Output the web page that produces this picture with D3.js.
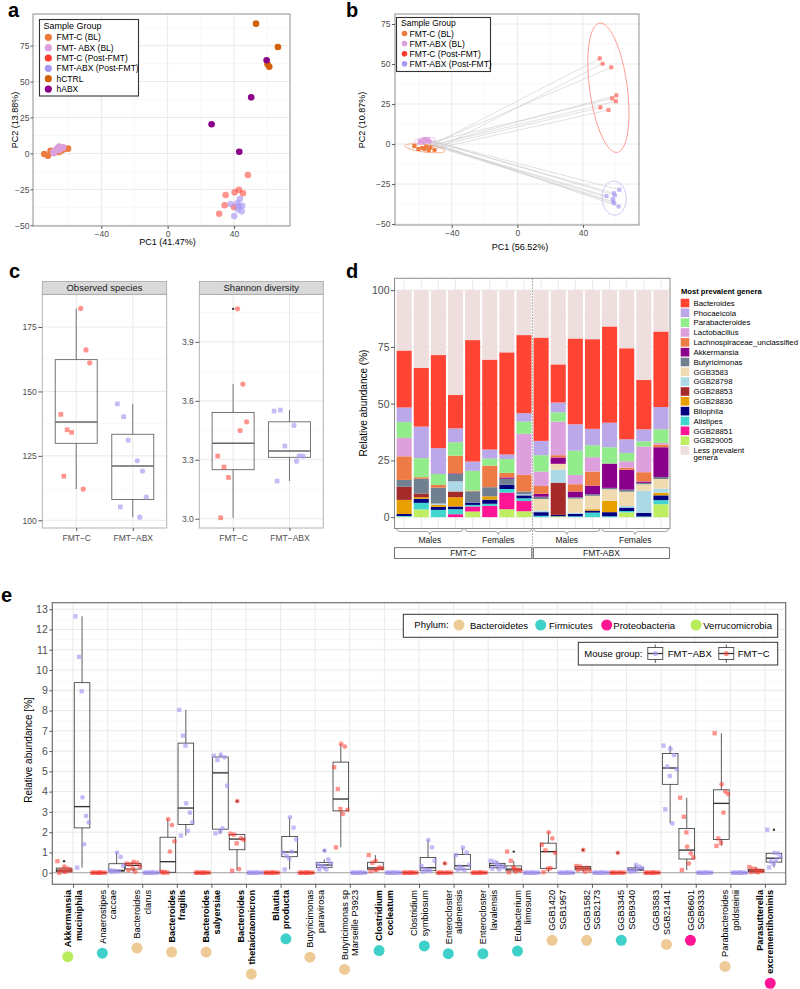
<!DOCTYPE html>
<html><head><meta charset="utf-8">
<script src="https://cdn.jsdelivr.net/npm/d3@7/dist/d3.min.js"></script>
<style>html,body{margin:0;padding:0;background:#fff;}</style>
</head><body>
<script>
// ================= DATA =================
// Panel a: PCA scores [PC1, PC2]
const aGroupNames = ["FMT-C (BL)", "FMT- ABX (BL)", "FMT-C (Post-FMT)", "FMT-ABX (Post-FMT)", "hCTRL", "hABX"];
const aFmtcBL = [[-74.4,-0.4],[-72.2,-1.6],[-70.6,1.9],[-60.1,3.3],[-64.5,1.7],[-65.7,1.0],[-69,0.5],[-63,2.8]];
const aFmtabxBL = [[-65.4,4.7],[-63,4.2],[-69,1.2],[-67.4,2.4],[-66.6,3.3],[-68.6,0.1],[-63.9,3.6],[-65.5,2.2]];
const aFmtcPost = [[48.4,-15],[43,-25.3],[40.4,-27.1],[45.4,-27.8],[35,-28.9],[34.4,-36.1],[40,-37.3],[31.1,-42]];
const aFmtabxPost = [[38,-35.2],[42,-34.7],[43.6,-31.7],[45,-36.4],[42.4,-38.9],[44.6,-40.3],[40.2,-43.6],[43,-36.6]];
const aHCTRL = [[53.3,90.3],[66.5,74],[60.3,62],[61.3,60.3]];
const aHABX = [[59.7,64.8],[50.4,39],[26.5,20.3],[43.2,1.2]];

// Panel b: PCA scores [PC1, PC2, sex]
const bGroupNames = ["FMT-C (BL)", "FMT-ABX (BL)", "FMT-C (Post-FMT)", "FMT-ABX (Post-FMT)"];
const bFmtcBL = [[-62.8,-1.25,"M"],[-60.3,-3.1,"M"],[-55.6,-1.7,"M"],[-54,-3.75,"M"],[-56.6,-3.1,"F"],[-50.5,-3.75,"F"],[-58,-2.5,"F"],[-53,-2.2,"F"]];
const bFmtabxBL = [[-56.6,3.1,"M"],[-55,2.5,"M"],[-54.5,2.8,"M"],[-59.5,1.5,"M"],[-58.7,2,"F"],[-57.5,1.2,"F"],[-56,1.8,"F"],[-53.5,1.5,"F"]];
const bFmtcPost = [[57.9,28.5,"M"],[60.4,30.4,"M"],[60.1,26.7,"M"],[55.6,21.25,"M"],[50.3,53.5,"F"],[52,50.2,"F"],[57.3,47.9,"F"],[50.7,22.9,"F"]];
const bFmtabxPost = [[62.2,-28.6,"M"],[58.9,-30.8,"M"],[59.5,-32,"M"],[58.5,-36,"M"],[54.4,-32.5,"F"],[58.3,-34.4,"F"],[59.1,-37,"F"],[61.8,-39,"F"]];

// Panel c: alpha diversity (males / females)
const cGroups = ["FMT\u2212C", "FMT\u2212ABX"];
const cObsFmtcM = [141.1,135.1,134.1,117.1], cObsFmtcF = [182.2,166.1,161.1,112.1];
const cObsAbxM = [145.2,140.2,131.1,105.2], cObsAbxF = [123.1,119.1,109,101.2];
const cShaFmtcM = [3.319,3.263,3.21,3.005], cShaFmtcF = [4.068,3.685,3.493,3.449];
const cShaAbxM = [3.548,3.553,3.37,3.192], cShaAbxF = [3.475,3.32,3.319,3.293];

// Panel d: relative abundance (%) per mouse, columns in legend order
const dGenera = ["Bacteroides","Phocaeicola","Parabacteroides","Lactobacillus","Lachnospiraceae_unclassified","Akkermansia","Butyricimonas","GGB3583","GGB28798","GGB28853","GGB28836","Bilophila","Alistipes","GGB28851","GGB29005","Less prevalent genera"];
const dBars = [
 [25.1,6.4,7.0,8.1,10.4,0,3.0,0,0,5.8,6.2,0.9,0.3,0,0.2,26.6],
 [25.8,13.9,8.4,0,0.7,0,6.5,0,0,1.6,0.7,1.8,2.9,0,3.4,34.3],
 [41.0,11.4,4.8,0,1.2,0,7.0,0,0.6,0,0.9,1.3,3.2,0,0,28.6],
 [14.7,6.1,5.9,0,7.8,0.3,3.2,0,4.5,2.5,4.1,1.2,2.2,1.3,0,46.2],
 [53.5,4.1,8.7,0,0.3,0,5.0,0,0,0,0,1.0,0.7,2.2,2.5,22.0],
 [39.6,4.0,3.1,0,9.5,0,4.0,0,0,0,1.5,1.8,0.9,5.0,0,30.6],
 [45.0,2.0,6.1,0,2.0,0.6,2.6,0,0,0,0,1.9,1.6,7.3,3.5,27.4],
 [34.4,3.7,5.4,18.1,7.3,0,1.2,0,0.5,0,0,1.3,1.2,4.5,2.6,19.8],
 [45.5,6.3,7.2,6.4,3.4,1.3,1.0,5.1,0.7,0,0,1.6,0.6,0,0,20.9],
 [16.8,4.3,4.1,14.8,1.0,2.8,0,2.6,5.7,14.2,0,0.6,0,0,0.4,32.7],
 [37.8,11.6,10.7,4.1,3.2,2.5,0.6,6.2,0.6,0,0,1.0,0.4,0,0,21.3],
 [39.5,7.2,5.3,6.3,6.2,3.8,0.7,5.9,0,0,0.6,0.9,2.0,0,0,21.6],
 [42.4,10.8,7.2,0,0,10.7,0.6,5.1,0,0,5.0,1.8,0.4,0,0,16.0],
 [40.1,6.0,3.7,2.8,0.9,8.8,0.9,6.3,0.7,0,0,1.5,0.6,0,2.1,25.6],
 [21.7,5.3,2.3,11.3,4.1,0.6,0.6,2.9,9.7,0,0,1.6,0.3,0,0,39.6],
 [33.3,9.8,6.0,0.7,1.2,13.1,0.9,4.2,1.8,0,1.2,2.1,1.8,0,5.7,18.2]
];
const dTreatment = ["FMT-C","FMT-ABX"];
const dSex = ["Males","Females"];

// Panel e: relative abundance [%] per taxon; 4 males + 4 females per group
const eTaxa = [["Akkermansia","muciniphila"],["Anaerostipes","caccae"],["Bacteroides","clarus"],["Bacteroides","fragilis"],["Bacteroides","salyersiae"],["Bacteroides","thetaiotaomicron"],["Blautia","producta"],["Butyricimonas","paravirosa"],["Butyricimonas sp","Marseille P3923"],["Clostridium","cocleatum"],["Clostridium","symbiosum"],["Enterocloster","aldenensis"],["Enterocloster","lavalensis"],["Eubacterium","limosum"],["GGB1420","SGB1957"],["GGB1582","SGB2173"],["GGB3345","SGB9340"],["GGB3583","SGB21441"],["GGB6601","SGB9333"],["Parabacteroides","goldsteinii"],["Parasutterella","excrementihominis"]];
const eSignificant = ["Akkermansia muciniphila","Bacteroides fragilis","Bacteroides salyersiae","Bacteroides thetaiotaomicron","Blautia producta","Clostridium cocleatum","Parasutterella excrementihominis"];
const ePhylum = ["Verrucomicrobia","Firmicutes","Bacteroidetes","Bacteroidetes","Bacteroidetes","Bacteroidetes","Firmicutes","Bacteroidetes","Bacteroidetes","Firmicutes","Firmicutes","Firmicutes","Firmicutes","Firmicutes","Bacteroidetes","Bacteroidetes","Firmicutes","Bacteroidetes","Proteobacteria","Bacteroidetes","Proteobacteria"];
const ePhyla = ["Bacteroidetes","Firmicutes","Proteobacteria","Verrucomicrobia"];
const Z = [0,0,0,0];
const eFmtcM = [[0.57,0.15,0.05,0],Z,[0.45,0.42,0.2,0.12],[0.05,0.03,0,0],Z,[1.92,1.88,1.45,0.1],Z,Z,[5.2,4.13,3.14,1.25],[0.87,0.49,0.13,0.08],Z,Z,Z,[1.04,0.59,0.25,0.02],[1.38,1.1,0.2,0.03],[0.33,0.3,0.2,0.15],Z,Z,[3.7,2.76,1.99,0.13],[6.88,1.69,1.48,1.32],[0.28,0.2,0.05,0.03]];
const eFmtcF = [[0.3,0.2,0.1,0.05],Z,[0.53,0.48,0.3,0.05],[2.64,2.35,1.55,1.04],Z,[3.53,1.7,1.62,0.18],Z,Z,[6.35,6.22,3.1,2.9],[0.58,0.26,0.21,0.16],Z,[0.46,0,0,0],Z,[0.2,0.15,0.1,0.05],[1.99,1.69,0.98,0.22],[1.12,0.25,0.1,0.05],[0.98,0,0,0],Z,[1.28,0.95,0.75,0.45],[4.36,4.0,3.88,2.96],[0.15,0.1,0.08,0.02]];
const eAbxM = [[12.65,10.65,8.95,0.25],[0.12,0.1,0.06,0.04],Z,[8.03,6.76,6.27,1.83],[5.77,5.56,2.02,1.94],Z,[1.0,0.82,0.7,0.16],[0.43,0.33,0.3,0.16],Z,Z,[0.33,0.16,0.1,0.05],[0.87,0.3,0.18,0.15],[0.59,0.54,0.38,0.2],Z,Z,Z,[0.15,0.12,0.08,0.05],[6.27,5.23,4.77,3.13],Z,Z,[2.12,0.55,0.45,0.26]];
const eAbxF = [[3.72,2.8,2.48,1.4],[0.99,0.78,0.33,0.08],Z,[3.42,2.96,2.48,2.06],[5.82,5.69,4.29,2.19],Z,[2.73,2.22,1.64,1.04],[1.09,0.66,0.46,0.16],Z,Z,[1.61,1.25,0.59,0.1],[1.23,0.99,0.38,0.13],[0.43,0.33,0.26,0.16],Z,Z,Z,[0.38,0.3,0.22,0.18],[6.12,5.8,5.1,2.43],Z,Z,[0.98,0.95,0.78,0.65]];

// ================= STYLE =================
const FONT = "'Liberation Sans', Arial, Helvetica, sans-serif";
const TICK_COL = "#4d4d4d";
const COL = { fmtcBL: "#EE7B3F", fmtabxBL: "#DDA0DD", fmtcPost: "#FF3B30", fmtabxPost: "#A796F2", hCTRL: "#D2600A", hABX: "#8B008B" };
const GENUS_COL = ["#FF4433","#BAA8E8","#93EC8C","#DDA0DD","#EE7B45","#8B008B","#708090","#F0DBB0","#ADD8E6","#A52A2A","#E8A000","#000080","#40D6CF","#FF1493","#BEEE62","#EEDEDE"];
const PHY_COL = { Bacteroidetes: "#EECB96", Firmicutes: "#3FD0C9", Proteobacteria: "#FF1493", Verrucomicrobia: "#B8EC5A" };
const JIT = [-0.9, 0.15, 0.9, -0.4];

const svg = d3.select("body").append("svg").attr("width", 800).attr("height", 989).attr("font-family", FONT);
svg.append("rect").attr("width", 800).attr("height", 989).attr("fill", "#fff");

function txt(g, s, x, y, o = {}) {
  const t = g.append("text").attr("x", x).attr("y", y).text(s)
    .attr("font-size", o.size || 9).attr("fill", o.fill || "#000")
    .attr("text-anchor", o.anchor || "start");
  if (o.weight) t.attr("font-weight", o.weight);
  if (o.rot) t.attr("transform", `rotate(${o.rot},${x},${y})`);
  return t;
}
function grid(g, xs, ys, xMaj, xMin, yMaj, yMin) {
  const xr = xs.range(), yr = ys.range();
  const vl = (vals, col, w) => g.append("g").selectAll("line").data(vals).join("line")
    .attr("x1", d => xs(d)).attr("x2", d => xs(d)).attr("y1", yr[0]).attr("y2", yr[1]).attr("stroke", col).attr("stroke-width", w);
  const hl = (vals, col, w) => g.append("g").selectAll("line").data(vals).join("line")
    .attr("y1", d => ys(d)).attr("y2", d => ys(d)).attr("x1", xr[0]).attr("x2", xr[1]).attr("stroke", col).attr("stroke-width", w);
  vl(xMin, "#f3f3f3", 0.6); hl(yMin, "#f3f3f3", 0.6);
  vl(xMaj, "#e6e6e6", 0.9); hl(yMaj, "#e6e6e6", 0.9);
}
function styleAxis(g, fs) {
  g.attr("font-family", FONT).attr("font-size", fs);
  g.select(".domain").remove();
  g.selectAll(".tick line").attr("stroke", "#333").attr("stroke-width", 0.8);
  g.selectAll(".tick text").attr("fill", TICK_COL);
}
function mark(g, x, y, sex, r, fill, op) {
  if (sex === "M") {
    const s = r * 1.8;
    g.append("rect").attr("x", x - s / 2).attr("y", y - s / 2).attr("width", s).attr("height", s).attr("fill", fill).attr("fill-opacity", op);
  } else {
    g.append("circle").attr("cx", x).attr("cy", y).attr("r", r).attr("fill", fill).attr("fill-opacity", op);
  }
}
function boxStats(vals) {
  const s = vals.slice().sort(d3.ascending);
  const q1 = d3.quantileSorted(s, 0.25), med = d3.quantileSorted(s, 0.5), q3 = d3.quantileSorted(s, 0.75);
  const iqr = q3 - q1, lo = q1 - 1.5 * iqr, hi = q3 + 1.5 * iqr;
  const ins = s.filter(v => v >= lo && v <= hi);
  return { q1, med, q3, wlo: d3.min(ins), whi: d3.max(ins), out: s.filter(v => v < lo || v > hi) };
}
function drawBox(g, cx, hw, st, ys, col, lw) {
  g.append("line").attr("x1", cx).attr("x2", cx).attr("y1", ys(st.whi)).attr("y2", ys(st.q3)).attr("stroke", col).attr("stroke-width", lw);
  g.append("line").attr("x1", cx).attr("x2", cx).attr("y1", ys(st.q1)).attr("y2", ys(st.wlo)).attr("stroke", col).attr("stroke-width", lw);
  g.append("rect").attr("x", cx - hw).attr("y", ys(st.q3)).attr("width", hw * 2).attr("height", Math.max(ys(st.q1) - ys(st.q3), 0))
    .attr("fill", "none").attr("stroke", col).attr("stroke-width", lw);
  g.append("line").attr("x1", cx - hw).attr("x2", cx + hw).attr("y1", ys(st.med)).attr("y2", ys(st.med)).attr("stroke", col).attr("stroke-width", lw * 1.7);
  st.out.forEach(v => g.append("circle").attr("cx", cx).attr("cy", ys(v)).attr("r", 1.2).attr("fill", "#333"));
}

// panel letters
[["a", 8, 17], ["b", 346, 17], ["c", 9, 278], ["d", 346, 278], ["e", 1, 602]].forEach(([s, x, y]) => txt(svg, s, x, y, { size: 20, weight: "bold" }));

// ================= PANEL A =================
{
  const g = svg.append("g");
  const xs = d3.scaleLinear().domain([-81.2, 73.8]).range([33, 290]);
  const ys = d3.scaleLinear().domain([-50.5, 97]).range([226, 14]);
  grid(g, xs, ys, [-40, 0, 40], [-60, -20, 20, 60], [-50, -25, 0, 25, 50, 75], [-37.5, -12.5, 12.5, 37.5, 62.5, 87.5]);
  g.append("rect").attr("x", 33).attr("y", 14).attr("width", 257).attr("height", 212).attr("fill", "none").attr("stroke", "#9a9a9a").attr("stroke-width", 1.1);
  g.append("g").attr("transform", "translate(0,226)").call(d3.axisBottom(xs).tickValues([-40, 0, 40]).tickSize(3).tickPadding(1.5)).call(a => styleAxis(a, 8.5));
  g.append("g").attr("transform", "translate(33,0)").call(d3.axisLeft(ys).tickValues([-50, -25, 0, 25, 50, 75]).tickSize(2.5).tickPadding(1)).call(a => styleAxis(a, 8.5));
  txt(g, "PC1 (41.47%)", 167.5, 245, { size: 9, anchor: "middle" });
  txt(g, "PC2 (13.88%)", 18, 120, { size: 9, anchor: "middle", rot: -90 });
  const sets = [[aFmtcBL, COL.fmtcBL, 1], [aFmtabxBL, COL.fmtabxBL, 1], [aFmtcPost, COL.fmtcPost, 0.55], [aFmtabxPost, COL.fmtabxPost, 0.65], [aHCTRL, COL.hCTRL, 1], [aHABX, COL.hABX, 1]];
  sets.forEach(([pts, c, op]) => g.append("g").selectAll("circle").data(pts).join("circle")
    .attr("cx", d => xs(d[0])).attr("cy", d => ys(d[1])).attr("r", 3.3).attr("fill", c).attr("fill-opacity", op));
  const lg = g.append("g");
  lg.append("rect").attr("x", 39.5).attr("y", 19.5).attr("width", 99).attr("height", 76.5).attr("fill", "#fff").attr("stroke", "#333").attr("stroke-width", 1.1);
  txt(lg, "Sample Group", 43.5, 29, { size: 9 });
  aGroupNames.forEach((n, i) => {
    const y = 37.3 + i * 10.35;
    lg.append("circle").attr("cx", 48.3).attr("cy", y).attr("r", 3.6).attr("fill", sets[i][1]);
    txt(lg, n, 56.5, y + 3, { size: 8.5 });
  });
}

// ================= PANEL B =================
{
  const g = svg.append("g");
  const xs = d3.scaleLinear().domain([-74.6, 74.2]).range([395, 639]);
  const ys = d3.scaleLinear().domain([-50.6, 81.25]).range([225, 14]);
  grid(g, xs, ys, [-40, 0, 40], [-60, -20, 20, 60], [-50, -25, 0, 25, 50, 75], [-37.5, -12.5, 12.5, 37.5, 62.5]);
  g.append("rect").attr("x", 395).attr("y", 14).attr("width", 244).attr("height", 211).attr("fill", "none").attr("stroke", "#9a9a9a").attr("stroke-width", 1.1);
  g.append("g").attr("transform", "translate(0,225)").call(d3.axisBottom(xs).tickValues([-40, 0, 40]).tickSize(3).tickPadding(1.5)).call(a => styleAxis(a, 8.5));
  g.append("g").attr("transform", "translate(395,0)").call(d3.axisLeft(ys).tickValues([-50, -25, 0, 25, 50, 75]).tickSize(3).tickPadding(1.5)).call(a => styleAxis(a, 8.5));
  txt(g, "PC1 (56.52%)", 520, 250, { size: 9, anchor: "middle" });
  txt(g, "PC2 (10.87%)", 365, 120, { size: 9, anchor: "middle", rot: -90 });
  const pairs = [[bFmtcBL, bFmtcPost], [bFmtabxBL, bFmtabxPost]];
  pairs.forEach(([A, B]) => A.forEach((p, i) => g.append("line")
    .attr("x1", xs(p[0])).attr("y1", ys(p[1])).attr("x2", xs(B[i][0])).attr("y2", ys(B[i][1]))
    .attr("stroke", "#cdcdcd").attr("stroke-width", 0.6)));
  const R = Math.sqrt(2 * 4.737);
  function ellipse(pts, col) {
    const n = pts.length, mx = d3.mean(pts, d => d[0]), my = d3.mean(pts, d => d[1]);
    let sxx = 0, syy = 0, sxy = 0;
    pts.forEach(d => { sxx += (d[0] - mx) ** 2; syy += (d[1] - my) ** 2; sxy += (d[0] - mx) * (d[1] - my); });
    sxx /= n - 1; syy /= n - 1; sxy /= n - 1;
    const a = Math.sqrt(sxx), b = sxy / a, c = Math.sqrt(Math.max(syy - b * b, 0));
    const ring = d3.range(0, 121).map(k => { const t = 2 * Math.PI * k / 120, u = Math.cos(t), v = Math.sin(t); return [mx + R * a * u, my + R * (b * u + c * v)]; });
    g.append("path").attr("d", d3.line().x(d => xs(d[0])).y(d => ys(d[1]))(ring)).attr("fill", "none").attr("stroke", col).attr("stroke-width", 0.9);
  }
  ellipse(bFmtcBL, "#F2A27A"); ellipse(bFmtabxBL, "#E4B3E4"); ellipse(bFmtcPost, "#FF8F85"); ellipse(bFmtabxPost, "#C5BAF6");
  const sets = [[bFmtcBL, COL.fmtcBL, 1], [bFmtabxBL, COL.fmtabxBL, 1], [bFmtcPost, COL.fmtcPost, 0.55], [bFmtabxPost, COL.fmtabxPost, 0.65]];
  sets.forEach(([pts, c, op]) => pts.forEach(p => mark(g, xs(p[0]), ys(p[1]), p[2], 2.3, c, op)));
  const lg = g.append("g");
  lg.append("rect").attr("x", 396.5).attr("y", 17.5).attr("width", 94).attr("height", 54).attr("fill", "#fff").attr("stroke", "#333").attr("stroke-width", 1.1);
  txt(lg, "Sample Group", 401, 26.3, { size: 8.5 });
  bGroupNames.forEach((n, i) => {
    const y = 33.5 + i * 10.1;
    lg.append("circle").attr("cx", 404.5).attr("cy", y).attr("r", 2.8).attr("fill", sets[i][1]);
    txt(lg, n, 409.5, y + 3, { size: 8.5 });
  });
}

// ================= PANEL C =================
function cFacet(x0, x1, title, ys, ticks, minor, fmt, C, A) {
  const g = svg.append("g");
  const xs = d3.scalePoint().domain(cGroups).range([x0, x1]).padding(0.6);
  grid(g, xs, ys, cGroups, [], ticks, minor);
  g.append("rect").attr("x", x0).attr("y", 294.3).attr("width", x1 - x0).attr("height", 528 - 294.3).attr("fill", "none").attr("stroke", "#b3b3b3").attr("stroke-width", 1);
  g.append("rect").attr("x", x0).attr("y", 281.5).attr("width", x1 - x0).attr("height", 12.8).attr("fill", "#d9d9d9").attr("stroke", "#a6a6a6").attr("stroke-width", 0.8);
  txt(g, title, (x0 + x1) / 2, 290.8, { size: 9.5, anchor: "middle", fill: "#1a1a1a" });
  g.append("g").attr("transform", `translate(${x0},0)`).call(d3.axisLeft(ys).tickValues(ticks).tickFormat(fmt).tickSize(4).tickPadding(1.5)).call(a => styleAxis(a, 8.5));
  g.append("g").attr("transform", "translate(0,528)").call(d3.axisBottom(xs).tickSize(3).tickPadding(4)).call(a => styleAxis(a, 8.5));
  [[C, COL.fmtcPost, 0.55], [A, COL.fmtabxPost, 0.65]].forEach(([grp, col, op], gi) => {
    const cx = xs(cGroups[gi]);
    drawBox(g, cx, 21, boxStats(grp.M.concat(grp.F)), ys, "#666", 0.9);
    grp.M.forEach((v, i) => mark(g, cx - 10 + JIT[i] * 6, ys(v), "M", 2.6, col, op));
    grp.F.forEach((v, i) => mark(g, cx + 9 + JIT[i] * 5, ys(v), "F", 2.6, col, op));
  });
}
cFacet(42.3, 166.7, "Observed species", d3.scaleLinear().domain([97, 187.7]).range([528, 294.3]),
  [100, 125, 150, 175], [112.5, 137.5, 162.5, 187.5], d3.format("d"),
  { M: cObsFmtcM, F: cObsFmtcF }, { M: cObsAbxM, F: cObsAbxF });
cFacet(199.3, 323.3, "Shannon diversity", d3.scaleLinear().domain([2.953, 4.142]).range([528, 294.3]),
  [3.0, 3.3, 3.6, 3.9], [3.15, 3.45, 3.75, 4.05], d3.format(".1f"),
  { M: cShaFmtcM, F: cShaFmtcF }, { M: cShaAbxM, F: cShaAbxF });

// ================= PANEL D =================
{
  const g = svg.append("g");
  const xs = d3.scaleBand().domain(d3.range(dBars.length)).range([395.6, 669.5]).paddingInner(0.12).paddingOuter(0.06);
  const ys = d3.scaleLinear().domain([-5, 105]).range([528.5, 278.8]);
  const centers = d3.range(dBars.length).map(i => xs(i) + xs.bandwidth() / 2);
  const cx = d3.scaleIdentity().range([394.5, 670]);
  grid(g, cx, ys, centers, [], [0, 25, 50, 75, 100], [12.5, 37.5, 62.5, 87.5]);
  const table = dBars.map(row => Object.fromEntries(dGenera.map((k, i) => [k, row[i]])));
  const keys = dGenera.slice(0, dGenera.length - 1).reverse().concat([dGenera[dGenera.length - 1]]);
  const series = d3.stack().keys(keys)(table);
  series.forEach(s => {
    const col = GENUS_COL[dGenera.indexOf(s.key)];
    g.append("g").selectAll("rect").data(s).join("rect")
      .attr("x", (d, i) => xs(i)).attr("width", xs.bandwidth())
      .attr("y", d => ys(d[1])).attr("height", d => Math.max(ys(d[0]) - ys(d[1]), 0))
      .attr("fill", col);
  });
  g.append("rect").attr("x", 394.5).attr("y", 278.3).attr("width", 275.5).attr("height", 250.2).attr("fill", "none").attr("stroke", "#8c8c8c").attr("stroke-width", 1);
  g.append("g").attr("transform", "translate(394.5,0)").call(d3.axisLeft(ys).tickValues([0, 25, 50, 75, 100]).tickSize(3.5).tickPadding(1.5)).call(a => styleAxis(a, 10.5));
  txt(g, "Relative abundance (%)", 367, 403, { size: 10, anchor: "middle", rot: -90 });
  const sep = (xs(7) + xs.bandwidth() + xs(8)) / 2;
  g.append("line").attr("x1", sep).attr("x2", sep).attr("y1", 278.3).attr("y2", 558.5).attr("stroke", "#888").attr("stroke-width", 0.9).attr("stroke-dasharray", "1.5,1.5");
  const brace = (xa, xb, y) => {
    const xm = (xa + xb) / 2, h = 3;
    const p = `M${xa},${y} q0,${h} ${h},${h} L${xm - h},${y + h} q${h},0 ${h},${h} q0,${-h} ${h},${-h} L${xb - h},${y + h} q${h},0 ${h},${-h}`;
    g.append("path").attr("d", p).attr("fill", "none").attr("stroke", "#8c8c8c").attr("stroke-width", 0.8);
  };
  dTreatment.forEach((t, ti) => {
    dSex.forEach((s, si) => {
      const i0 = ti * 8 + si * 4, i1 = i0 + 3;
      const xa = xs(i0), xb = xs(i1) + xs.bandwidth();
      brace(xa, xb, 528.5);
      txt(g, s, (xa + xb) / 2, 543, { size: 8.5, anchor: "middle", fill: "#1a1a1a" });
    });
    const xa = ti === 0 ? 394.5 : sep + 0.8, xb = ti === 0 ? sep - 0.8 : 669.5;
    g.append("rect").attr("x", xa).attr("y", 547.7).attr("width", xb - xa).attr("height", 10.8).attr("fill", "#fff").attr("stroke", "#555").attr("stroke-width", 0.8);
    txt(g, t, (xa + xb) / 2, 556.2, { size: 8.5, anchor: "middle", fill: "#1a1a1a" });
  });
  txt(g, "Most prevalent genera", 681, 293.5, { size: 7.6, weight: "bold" });
  dGenera.forEach((n, i) => {
    const y = 303 + i * 9.83;
    g.append("rect").attr("x", 680.7).attr("y", y - 4.3).attr("width", 8.6).attr("height", 8.6).attr("fill", GENUS_COL[i]);
    if (i === dGenera.length - 1) {
      txt(g, "Less prevalent", 693.5, y + 2.5, { size: 7.8 });
      txt(g, "genera", 693.5, y + 9.8, { size: 7.8 });
    } else txt(g, n, 693.5, y + 2.8, { size: 7.8 });
  });
}

// ================= PANEL E =================
{
  const g = svg.append("g");
  const xs = d3.scalePoint().domain(d3.range(eTaxa.length)).range([52.3, 785.7]).padding(0.6);
  const ys = d3.scaleLinear().domain([-0.572, 13.32]).range([884.3, 602.7]);
  grid(g, xs, ys, d3.range(eTaxa.length), [], d3.range(0, 14), d3.range(-0.5, 13.5, 1));
  g.append("line").attr("x1", 52.3).attr("x2", 785.7).attr("y1", ys(0)).attr("y2", ys(0)).attr("stroke", "#a8a8a8").attr("stroke-width", 1);
  g.append("rect").attr("x", 52.3).attr("y", 602.7).attr("width", 733.4).attr("height", 281.6).attr("fill", "none").attr("stroke", "#707070").attr("stroke-width", 1.2);
  g.append("g").attr("transform", "translate(52.3,0)").call(d3.axisLeft(ys).tickValues(d3.range(0, 14)).tickSize(3).tickPadding(1.5)).call(a => styleAxis(a, 10.5));
  g.append("g").attr("transform", "translate(0,884.3)").call(d3.axisBottom(xs).tickSize(3.5).tickFormat("")).call(a => styleAxis(a, 9));
  txt(g, "Relative abundance [%]", 31.5, 750, { size: 10, anchor: "middle", rot: -90 });
  const groups = [[eFmtcM, eFmtcF, -9, COL.fmtcPost, 0.55], [eAbxM, eAbxF, 9, COL.fmtabxPost, 0.65]];
  groups.forEach(([M, F, off]) => eTaxa.forEach((t, i) => drawBox(g, xs(i) + off, 7.8, boxStats(M[i].concat(F[i])), ys, "#333", 0.8)));
  groups.forEach(([M, F, off, col, op]) => eTaxa.forEach((t, i) => {
    const cx = xs(i) + off;
    M[i].forEach((v, k) => mark(g, cx - 3.5 + JIT[k] * 3.5, ys(v), "M", 2.4, col, op));
    F[i].forEach((v, k) => mark(g, cx + 3.5 + JIT[k] * 3.5, ys(v), "F", 2.4, col, op));
  }));
  eTaxa.forEach((lines, i) => {
    const x = xs(i), y0 = 890;
    const bold = eSignificant.includes(lines.join(" "));
    const lg = g.append("g").attr("transform", `translate(${x},${y0}) rotate(-90)`);
    const lens = lines.map((s, j) => {
      const t = lg.append("text").attr("x", 0).attr("y", j === 0 ? -5.3 : 5.3).attr("dy", "0.35em")
        .attr("text-anchor", "end").attr("font-size", 9.2).attr("fill", "#000").text(s);
      if (bold) t.attr("font-weight", "bold");
      return t.node().getComputedTextLength();
    });
    const k = lens[0] >= lens[1] ? 0 : 1;
    g.append("circle").attr("cx", x + (k === 0 ? -5.3 : 5.3)).attr("cy", y0 + lens[k] + 9.5).attr("r", 5.5).attr("fill", PHY_COL[ePhylum[i]]);
  });
  const lg1 = g.append("g");
  lg1.append("rect").attr("x", 403.3).attr("y", 614.3).attr("width", 374.4).attr("height", 23).attr("fill", "#fff").attr("stroke", "#333").attr("stroke-width", 1);
  txt(lg1, "Phylum:", 414.3, 628.3, { size: 9.5 });
  const phyX = [[459, 470], [540.7, 549], [606.7, 613.3], [696, 703.3]];
  ePhyla.forEach((p, i) => {
    lg1.append("circle").attr("cx", phyX[i][0]).attr("cy", 625).attr("r", 5.5).attr("fill", PHY_COL[p]);
    txt(lg1, p, phyX[i][1], 628.5, { size: 9.5 });
  });
  const lg2 = g.append("g");
  lg2.append("rect").attr("x", 578.3).attr("y", 642.3).attr("width", 199.4).attr("height", 22.7).attr("fill", "#fff").attr("stroke", "#333").attr("stroke-width", 1);
  txt(lg2, "Mouse group:", 584.3, 656.5, { size: 9.5 });
  [["FMT\u2212ABX", 655.3, 667.7, COL.fmtabxPost, 0.65], ["FMT\u2212C", 726.3, 737.7, COL.fmtcPost, 0.55]].forEach(([n, cxk, tx, col, op]) => {
    lg2.append("line").attr("x1", cxk).attr("x2", cxk).attr("y1", 644.5).attr("y2", 663).attr("stroke", "#333").attr("stroke-width", 0.8);
    lg2.append("rect").attr("x", cxk - 7.5).attr("y", 647.5).attr("width", 15).attr("height", 12).attr("fill", "#fff").attr("stroke", "#333").attr("stroke-width", 0.8);
    lg2.append("line").attr("x1", cxk - 7.5).attr("x2", cxk + 7.5).attr("y1", 653.5).attr("y2", 653.5).attr("stroke", "#333").attr("stroke-width", 1.3);
    lg2.append("circle").attr("cx", cxk).attr("cy", 653.5).attr("r", 2.6).attr("fill", col).attr("fill-opacity", op);
    txt(lg2, n, tx, 657, { size: 9.5 });
  });
}
</script>
</body></html>
